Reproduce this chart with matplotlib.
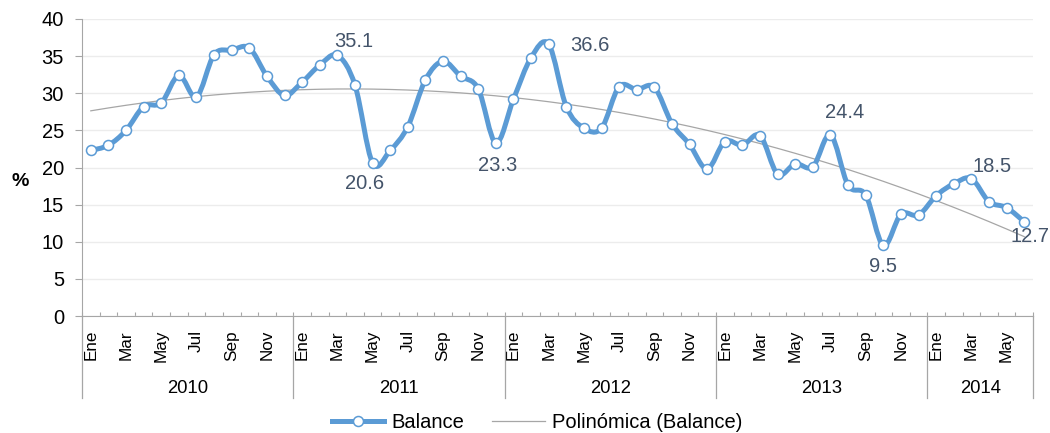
import numpy as np
import matplotlib
matplotlib.use("Agg")
import matplotlib.pyplot as plt
from matplotlib.path import Path
from matplotlib.patches import PathPatch
from matplotlib.lines import Line2D
import matplotlib.transforms as mtransforms

plt.rcParams['font.family'] = ['Liberation Sans', 'DejaVu Sans']

years = ["2010", "2011", "2012", "2013", "2014"]
months_per_year = [12, 12, 12, 12, 6]
month_names = ["Ene", "Feb", "Mar", "Abr", "May", "Jun", "Jul", "Ago", "Sep", "Oct", "Nov", "Dic"]

balance = [
    22.3, 23.0, 25.0, 28.2, 28.7, 32.4, 29.5, 35.2, 35.8, 36.1, 32.3, 29.7,
    31.5, 33.8, 35.1, 31.1, 20.6, 22.3, 25.5, 31.8, 34.3, 32.3, 30.6, 23.3,
    29.2, 34.8, 36.6, 28.2, 25.3, 25.3, 30.9, 30.5, 30.8, 25.9, 23.1, 19.8,
    23.5, 23.0, 24.3, 19.1, 20.5, 20.1, 24.4, 17.6, 16.3, 9.5, 13.7, 13.6,
    16.2, 17.8, 18.5, 15.4, 14.6, 12.7,
]
labelled = {14: "35.1", 16: "20.6", 23: "23.3", 26: "36.6", 42: "24.4", 45: "9.5", 50: "18.5", 53: "12.7"}
label_offsets = {14: (12, 10), 16: (-6, -15), 23: (1, -16), 26: (30, -1),
                 42: (10, 16), 45: (0, -15), 50: (15, 9), 53: (4, -11)}

blue = "#5B9BD5"
n = len(balance)
x = np.arange(n)
y = np.array(balance, dtype=float)

fig = plt.figure(figsize=(10.5, 4.33), dpi=100)
ax = fig.add_axes([82/1050, 1-316/433, (1033-82)/1050, (316-19)/433])

ax.set_xlim(-0.5, n - 0.5)
ax.set_ylim(0, 40)
ax.set_yticks(np.arange(0, 41, 5))
ax.yaxis.grid(True, color="#ececec", lw=1)
ax.set_axisbelow(True)

# smoothed line via cubic Bezier segments (Catmull-Rom control points)
verts = [(x[0], y[0])]
codes = [Path.MOVETO]
for i in range(n - 1):
    p0 = np.array([x[max(i-1, 0)], y[max(i-1, 0)]])
    p1 = np.array([x[i], y[i]])
    p2 = np.array([x[i+1], y[i+1]])
    p3 = np.array([x[min(i+2, n-1)], y[min(i+2, n-1)]])
    c1 = p1 + (p2 - p0) / 6.0
    c2 = p2 - (p3 - p1) / 6.0
    verts += [tuple(c1), tuple(c2), tuple(p2)]
    codes += [Path.CURVE4] * 3
ax.add_patch(PathPatch(Path(verts, codes), fill=False, edgecolor=blue, lw=3.6,
                       capstyle='round', joinstyle='round', zorder=3))
ax.plot(x, y, ls='none', marker='o', ms=7.2, mfc='white', mec=blue, mew=1.1, zorder=4)

# polynomial trend
coef = np.polyfit(x, y, 2)
trend = np.polyval(coef, x)
ax.plot(x, trend, color="#a6a6a6", lw=0.9, zorder=2)

for i, txt in labelled.items():
    dx, dy = label_offsets[i]
    ax.annotate(txt, (x[i], y[i]), xytext=(dx, dy), textcoords='offset points',
                ha='center', va='center', fontsize=14.5, color="#44546A", zorder=5,
                annotation_clip=False)

# axes styling
for s in ['top', 'right']:
    ax.spines[s].set_visible(False)
ax.spines['left'].set_color("#a6a6a6")
ax.spines['bottom'].set_color("#a6a6a6")
ax.tick_params(axis='y', length=5, color="#a6a6a6", labelsize=14.5, pad=8, width=0.8)

# month labels
xt, xl = [], []
k = 0
for yi, m in zip(years, months_per_year):
    for j in range(m):
        if j % 2 == 0:
            xt.append(k)
            xl.append(month_names[j])
        k += 1
ax.set_xticks(xt)
ax.set_xticklabels(xl, rotation=90, fontsize=12.3)
ax.tick_params(axis='x', length=0, pad=10)
ax.set_xticks(np.arange(-0.5, n, 1), minor=True)
ax.tick_params(axis='x', which='minor', direction='in', length=3, color="#a6a6a6", width=0.8)

# year labels and separators
trans = mtransforms.blended_transform_factory(ax.transData, ax.transAxes)
start = 0
bounds = [-0.5]
for yi, m in zip(years, months_per_year):
    center = start + (m - 1) / 2.0
    ax.text(center, -0.243, yi, transform=trans, ha='center', va='center', fontsize=13.3)
    start += m
    bounds.append(start - 0.5)
for b in bounds:
    ax.add_line(Line2D([b, b], [0, -0.277], transform=trans, color="#a6a6a6", lw=0.9, clip_on=False))

fig.text(20/1050, 1-181/433, "%", fontsize=14, fontweight='bold', ha='center', va='center')

handles = [Line2D([], [], color=blue, lw=3.6, marker='o', ms=7.2, mfc='white', mec=blue, mew=1.1),
           Line2D([], [], color="#a6a6a6", lw=0.9)]
fig.legend(handles, ["Balance", "Polinómica (Balance)"], loc='center',
           bbox_to_anchor=(537/1050, 1-423/433), ncol=2, frameon=False, fontsize=14.5,
           handlelength=2.6, handletextpad=0.35, columnspacing=1.4, numpoints=1)

fig.savefig("out.png", dpi=100)
